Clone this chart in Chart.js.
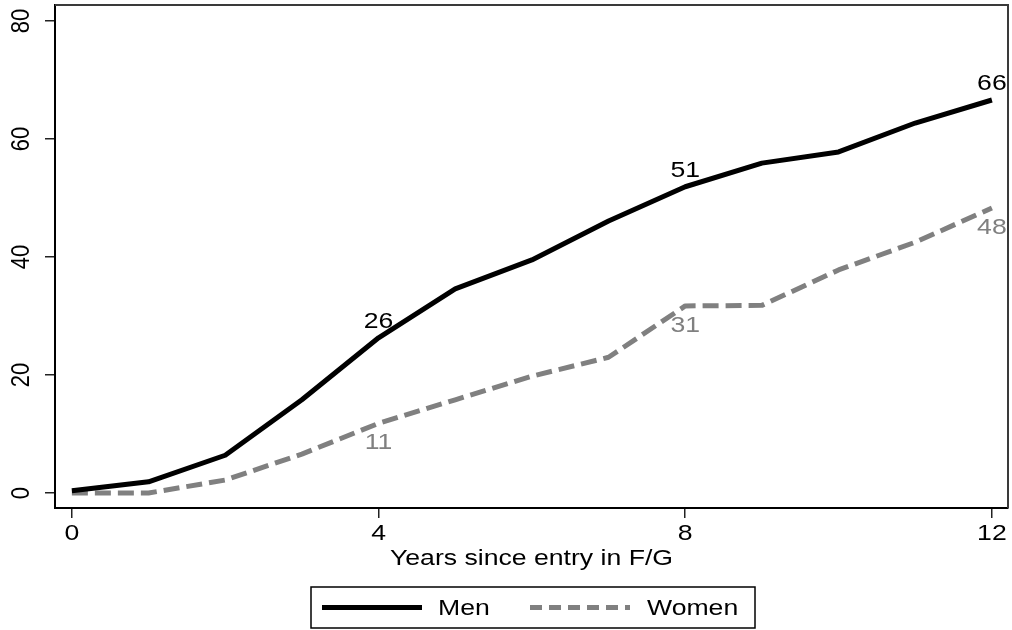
<!DOCTYPE html>
<html>
<head>
<meta charset="utf-8">
<script src="https://cdn.jsdelivr.net/npm/chart.js@4"></script>
<style>
html,body{margin:0;padding:0;background:#fff;}
#wrap{width:1012px;height:630px;position:relative;}
</style>
</head>
<body>
<div id="wrap"><canvas id="c" width="1012" height="630"></canvas></div>
<script>
// ---- data ----
const years = [0,1,2,3,4,5,6,7,8,9,10,11,12];
const menValues   = [0.4,1.9,6.4,15.8,26.3,34.6,39.5,46.1,51.9,55.9,57.8,62.7,66.6];
const womenValues = [0.0,0.0,2.2,6.6,11.8,15.8,19.8,23.0,31.7,31.8,37.8,42.5,48.3];
const labelYears  = [4,8,12];
const menLabels   = ['26','51','66'];
const womenLabels = ['11','31','48'];
const xTicks = [0,4,8,12];
const yTicks = [0,20,40,60,80];
const seriesNames = ['Men','Women'];
const xTitle = 'Years since entry in F/G';

const FONT = '"Liberation Sans", Arial, Helvetica, sans-serif';
const SX = 1.21;   // horizontal stretch of the reference's text
const FS = 22;

function txt(ctx, s, x, y, opts) {
  opts = opts || {};
  ctx.save();
  ctx.translate(x, y);
  ctx.scale(SX, 1);
  if (opts.rotate) ctx.rotate(opts.rotate);
  ctx.font = FS + 'px ' + FONT;
  ctx.fillStyle = opts.color || '#000';
  ctx.textAlign = opts.align || 'center';
  ctx.textBaseline = opts.baseline || 'alphabetic';
  ctx.fillText(s, 0, 0);
  ctx.restore();
}

const toXY = vals => years.map((y, i) => ({x: y, y: vals[i]}));

const decor = {
  id: 'decor',
  afterDraw(chart) {
    const ctx = chart.ctx;
    const xs = chart.scales.x, ys = chart.scales.y;
    const a = chart.chartArea;
    // top and right frame
    ctx.save();
    ctx.strokeStyle = '#3a3a3a';
    ctx.lineWidth = 2;
    ctx.beginPath();
    ctx.moveTo(a.left, a.top); ctx.lineTo(a.right, a.top); ctx.lineTo(a.right, a.bottom);
    ctx.stroke();
    ctx.restore();
    // y tick labels (vertical)
    yTicks.forEach(v => {
      txt(ctx, String(v), 22, ys.getPixelForValue(v), {rotate: -Math.PI/2, baseline: 'middle'});
    });
    // x tick labels
    xTicks.forEach(v => {
      txt(ctx, String(v), xs.getPixelForValue(v), 540);
    });
    // x title
    txt(ctx, xTitle, (a.left + a.right) / 2, 565);
    // value labels
    const ds = chart.data.datasets;
    labelYears.forEach((yr, k) => {
      const i = years.indexOf(yr);
      const px = xs.getPixelForValue(yr);
      txt(ctx, menLabels[k], px, ys.getPixelForValue(menValues[i]) - 10, {color: ds[0].borderColor});
      txt(ctx, womenLabels[k], px, ys.getPixelForValue(womenValues[i]) + 26, {color: ds[1].borderColor});
    });
    // legend
    ctx.save();
    ctx.strokeStyle = '#000';
    ctx.lineWidth = 1.5;
    ctx.strokeRect(311, 587, 444, 41);
    const items = [{x0: 322, tx: 438, dash: []}, {x0: 530, tx: 647, dash: [12, 7]}];
    items.forEach((it, k) => {
      const d = ds[k];
      ctx.save();
      ctx.strokeStyle = d.borderColor;
      ctx.lineWidth = d.borderWidth;
      ctx.setLineDash(it.dash);
      ctx.lineCap = 'butt';
      ctx.beginPath();
      ctx.moveTo(it.x0, 607.5); ctx.lineTo(it.x0 + 100, 607.5);
      ctx.stroke();
      ctx.restore();
      txt(ctx, d.label, it.tx, 615, {align: 'left'});
    });
    ctx.restore();
  }
};

new Chart(document.getElementById('c'), {
  type: 'line',
  data: {
    datasets: [
      {label: seriesNames[0], data: toXY(menValues), borderColor: '#000000', borderWidth: 5,
       pointRadius: 0, tension: 0, fill: false, borderCapStyle: 'butt', borderJoinStyle: 'round'},
      {label: seriesNames[1], data: toXY(womenValues), borderColor: '#808080', borderWidth: 5,
       borderDash: [16, 7], pointRadius: 0, tension: 0, fill: false, borderCapStyle: 'butt', borderJoinStyle: 'round'}
    ]
  },
  options: {
    responsive: true,
    maintainAspectRatio: false,
    animation: false,
    devicePixelRatio: 1,
    layout: {padding: {left: 45, right: 4, top: 5, bottom: 112}},
    plugins: {legend: {display: false}, tooltip: {enabled: false}},
    scales: {
      x: {
        type: 'linear', min: -0.22, max: 12.21,
        afterBuildTicks: s => { s.ticks = xTicks.map(v => ({value: v})); },
        ticks: {display: false},
        grid: {display: true, drawOnChartArea: false, drawTicks: true, tickLength: 10, color: '#222', lineWidth: 1.5},
        border: {display: true, color: '#000', width: 2}
      },
      y: {
        type: 'linear', min: -2.54, max: 82.7,
        afterBuildTicks: s => { s.ticks = yTicks.map(v => ({value: v})); },
        ticks: {display: false},
        grid: {display: true, drawOnChartArea: false, drawTicks: true, tickLength: 10, color: '#222', lineWidth: 1.5},
        border: {display: true, color: '#000', width: 2}
      }
    }
  },
  plugins: [decor]
});
</script>
</body>
</html>
